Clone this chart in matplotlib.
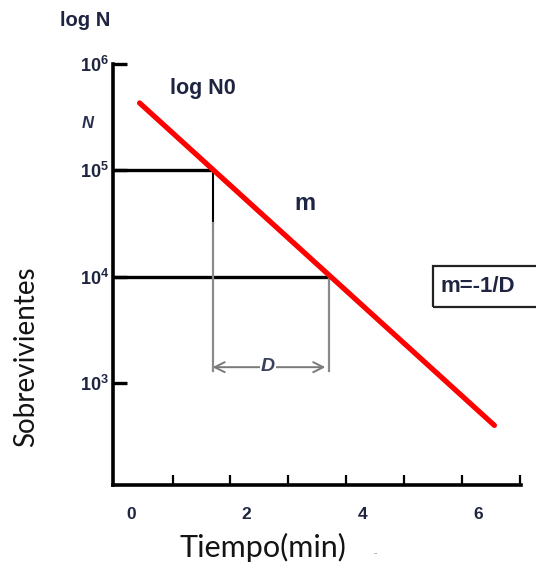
import matplotlib
matplotlib.use("Agg")
import matplotlib.pyplot as plt
from matplotlib.patches import Rectangle

# survival curve (log scale)
time_line = [0.15, 6.28]          # min
survivors_line = [4.3e5, 400]     # N
t_1e5 = 1.41                      # time where N = 10^5
t_1e4 = 3.43                      # time where N = 10^4
n_arrow = 1410                    # height of the D arrow
n_black_end = 3.2e4               # black part of the first vertical ends here
y_ticks = [1e3, 1e4, 1e5, 1e6]
y_tick_labels = [r'$\mathbf{10^{3}}$', r'$\mathbf{10^{4}}$', r'$\mathbf{10^{5}}$', r'$\mathbf{10^{6}}$']
x_ticks = [0, 2, 4, 6]
x_minor = [0.72, 1.72, 2.72, 3.72, 4.72, 5.72, 6.72]

plt.rcParams['mathtext.fontset'] = 'custom'
plt.rcParams['mathtext.bf'] = 'Liberation Sans:bold'
plt.rcParams['mathtext.rm'] = 'Liberation Sans'

dark = '#1f2540'
fig = plt.figure(figsize=(5.36, 5.66), dpi=100)
ax = fig.add_axes([113 / 536, 81 / 566, 408 / 536, 421 / 566])

ax.set_yscale('log')
ax.set_xlim(-0.31, 6.74)
ax.set_ylim(110, 1e6)

# reference lines
ax.plot([-0.31, t_1e5], [1e5, 1e5], color='black', lw=2.4, solid_capstyle='butt')
ax.plot([-0.31, t_1e4], [1e4, 1e4], color='black', lw=2.4, solid_capstyle='butt')
ax.plot([t_1e5, t_1e5], [1e5, n_black_end], color='black', lw=1.5)
ax.plot([t_1e5, t_1e5], [n_black_end, n_arrow * 0.92], color='#8a8a8a', lw=1.6)
ax.plot([t_1e4, t_1e4], [1e4, n_arrow * 0.92], color='#8a8a8a', lw=1.6)
ax.annotate('', xy=(t_1e5, n_arrow), xytext=(t_1e4 - 0.07, n_arrow),
            arrowprops=dict(arrowstyle='<->', color='#7a7a7a', lw=1.4,
                            mutation_scale=18, shrinkA=0, shrinkB=0))
ax.text((t_1e5 + t_1e4) / 2 - 0.05, n_arrow * 1.02, 'D', color='#3a3f5a', fontsize=14,
        fontweight='bold', fontstyle='italic', ha='center', va='center',
        family='Liberation Sans',
        bbox=dict(facecolor='white', edgecolor='none', pad=0.5))

ax.plot(time_line, survivors_line, color='#ff0000', lw=3.8, solid_capstyle='round')

ax.text(0.67, 10 ** 5.765, 'log N0', fontsize=15.5, fontweight='bold', color=dark,
        family='Liberation Sans', va='center')
ax.text(3.01, 10 ** 4.69, 'm', fontsize=17, fontweight='bold', color=dark,
        family='Liberation Sans', ha='center', va='center')

# axes styling
for s in ['top', 'right']:
    ax.spines[s].set_visible(False)
for s in ['left', 'bottom']:
    ax.spines[s].set_linewidth(2.6)
ax.set_yticks(y_ticks)
ax.set_yticklabels(y_tick_labels)
ax.minorticks_off()
ax.tick_params(axis='y', direction='in', length=10, width=2.4, pad=3,
               labelsize=13, labelcolor=dark)
ax.set_xticks(x_ticks)
ax.set_xticklabels([str(v) for v in x_ticks], fontweight='bold',
                   family='Liberation Sans')
ax.tick_params(axis='x', which='major', length=0, pad=16, labelsize=12.5, labelcolor=dark)
ax.set_xticks(x_minor, minor=True)
ax.tick_params(axis='x', which='minor', direction='in', length=7, width=1.6)

fig.text(85 / 536, 1 - 20 / 566, 'log N', fontsize=14.5, fontweight='bold', color=dark,
         family='Liberation Sans', ha='center', va='center')
fig.text(88 / 536, 1 - 123 / 566, 'N', fontsize=12, fontweight='bold', fontstyle='italic',
         color='#2a3050', family='Liberation Sans', ha='center', va='center')
fig.text(26 / 536, 1 - 357 / 566, 'Sobrevivientes', fontsize=20, rotation=90,
         family='Lato', color='#141414', ha='center', va='center')
fig.text(263 / 536, 1 - 547 / 566, 'Tiempo(min)', fontsize=22,
         family='Lato', color='#141414', ha='center', va='center')
fig.text(375 / 536, 1 - 553 / 566, '-', fontsize=7, color='#999999',
         ha='center', va='center')

fig.add_artist(Rectangle((433 / 536, 1 - 307 / 566), 0.3, 41 / 566, fill=False,
                         edgecolor='#222222', lw=1.6, transform=fig.transFigure))
fig.text(440 / 536, 1 - 287 / 566, 'm=-1/D', fontsize=16, fontweight='bold',
         color=dark, family='Liberation Sans', va='center')

fig.savefig('out.png', dpi=100)
